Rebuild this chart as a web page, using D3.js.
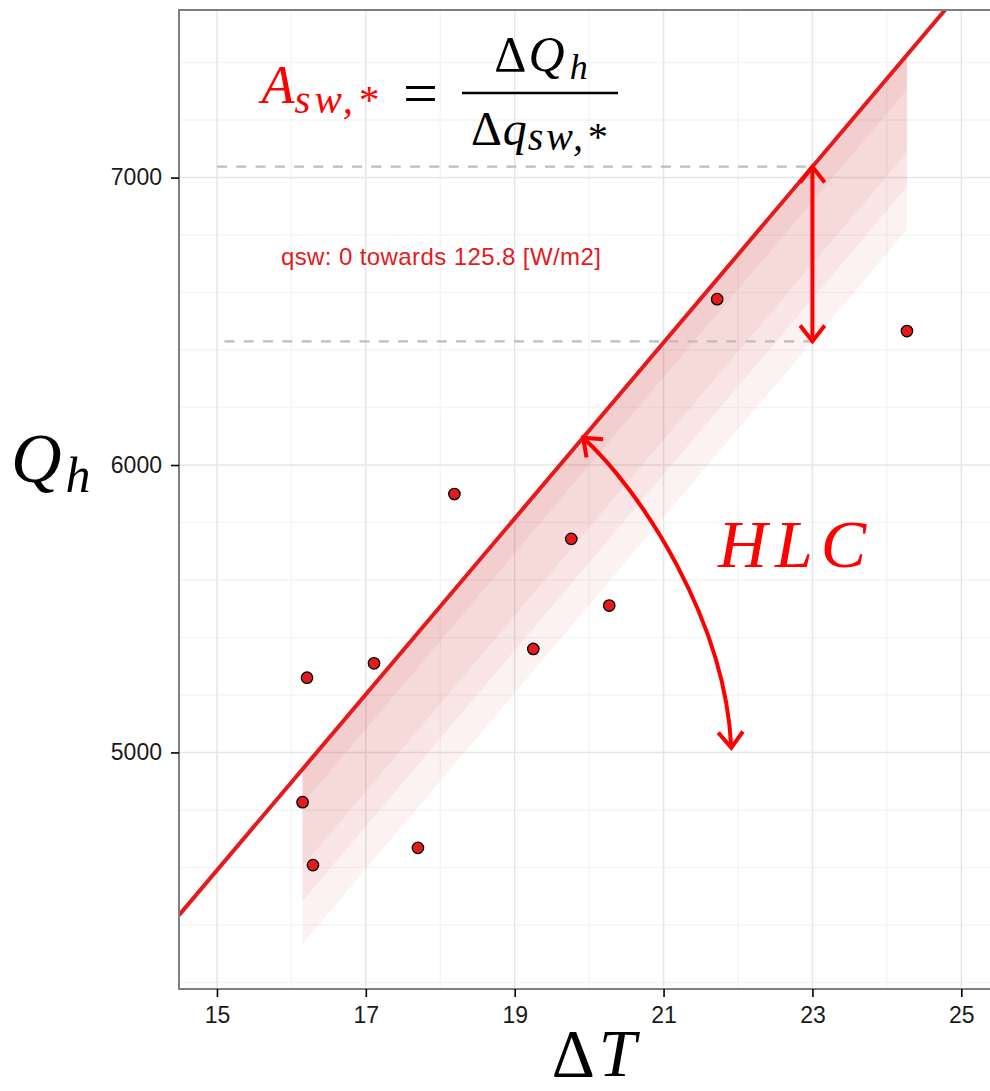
<!DOCTYPE html>
<html lang="en">

<head>
    <meta charset="utf-8">
    <title>HLC</title>
    <script src="https://d3js.org/d3.v7.min.js"></script>
    <style>
        body { margin: 0; background: #fff; }
    </style>
</head>

<body>
    <script type="text/javascript">
        var w = 990;
        var h = 1091;

        // measured points (temperature difference, heating power)
        var dT = [16.21, 17.11, 18.19, 16.15, 16.29, 17.70, 19.25, 19.76, 20.27, 21.72, 24.27];
        var Qh = [5260, 5310, 5899, 4827, 4608, 4668, 5360, 5743, 5511, 6577, 6466];

        // fitted model: Q = hlc * dT + intercept + asw * qsw
        var hlc = 306;
        var intercept = 0;
        var asw = -4.83;
        var qswMax = 125.8;
        var qswSteps = [25, 70, 95, 125.8];

        var xTicks = [15, 17, 19, 21, 23, 25];
        var xMinor = [16, 18, 20, 22, 24];
        var yTicks = [5000, 6000, 7000];
        var yMinor = [4200, 4400, 4600, 4800, 5200, 5400, 5600, 5800, 6200, 6400, 6600, 6800, 7200, 7400];

        // annotation anchors, in data units
        var arcX = [19.92, 20.69, 21.83, 21.91];
        var arcY = [6095, 5913, 5461, 5016];
        var dashStart = [15, 15.1];
        var arrowX = 23;

        var red = "#e41a1c";
        var pure = "#ff0000";

        var x = d3.scaleLinear().domain([14.49, 25.52]).range([179, 1000]);
        var y = d3.scaleLinear().domain([4177, 7583]).range([989, 10]);

        function model(t, q) { return hlc * t + intercept + asw * q; }

        var svg = d3.select("body")
            .append("svg").attr("width", w).attr("height", h);

        svg.append("clipPath").attr("id", "panel")
            .append("rect").attr("x", 179).attr("y", 10).attr("width", 821).attr("height", 979);

        var g = svg.append("g").attr("clip-path", "url(#panel)");

        // grid
        g.selectAll(".xmin").data(xMinor).enter().append("line")
            .attr("x1", d => x(d)).attr("x2", d => x(d)).attr("y1", 10).attr("y2", 989)
            .attr("stroke", "#f5f5f5").attr("stroke-width", 1.5);
        g.selectAll(".ymin").data(yMinor).enter().append("line")
            .attr("y1", d => y(d)).attr("y2", d => y(d)).attr("x1", 179).attr("x2", 1000)
            .attr("stroke", "#f5f5f5").attr("stroke-width", 1.5);
        g.selectAll(".xmaj").data(xTicks).enter().append("line")
            .attr("x1", d => x(d)).attr("x2", d => x(d)).attr("y1", 10).attr("y2", 989)
            .attr("stroke", "#e6e6e6").attr("stroke-width", 1.5);
        g.selectAll(".ymaj").data(yTicks).enter().append("line")
            .attr("y1", d => y(d)).attr("y2", d => y(d)).attr("x1", 179).attr("x2", 1000)
            .attr("stroke", "#e6e6e6").attr("stroke-width", 1.5);

        // ribbons for the solar gains
        var ext = d3.extent(dT);
        qswSteps.forEach(function (q) {
            var area = d3.area()
                .x(d => x(d))
                .y0(d => y(model(d, 0)))
                .y1(d => y(model(d, q)));
            g.append("path").attr("d", area(ext))
                .attr("fill", "#d21f22").attr("fill-opacity", 0.06);
        });

        // dashed reference levels
        [0, qswMax].forEach(function (q, i) {
            g.append("line")
                .attr("x1", x(dashStart[i])).attr("x2", x(arrowX))
                .attr("y1", y(model(arrowX, q))).attr("y2", y(model(arrowX, q)))
                .attr("stroke", "#bdbdbd").attr("stroke-width", 2.2)
                .attr("stroke-dasharray", "10,9.3");
        });

        // regression line
        var xd = x.domain();
        g.append("line")
            .attr("x1", x(xd[0])).attr("y1", y(model(xd[0], 0)))
            .attr("x2", x(xd[1])).attr("y2", y(model(xd[1], 0)))
            .attr("stroke", red).attr("stroke-width", 4);

        // points
        g.selectAll("circle").data(dT).enter().append("circle")
            .attr("cx", d => x(d)).attr("cy", (d, i) => y(Qh[i]))
            .attr("r", 5.7).attr("fill", red).attr("stroke", "#000").attr("stroke-width", 1.3);

        // arrows
        function chevron(tx, ty, bx, by) {
            var a = Math.atan2(by, bx), s = 38 * Math.PI / 180, len = 20;
            var p = d3.path();
            p.moveTo(tx + len * Math.cos(a + s), ty + len * Math.sin(a + s));
            p.lineTo(tx, ty);
            p.lineTo(tx + len * Math.cos(a - s), ty + len * Math.sin(a - s));
            g.append("path").attr("d", p.toString()).attr("fill", "none")
                .attr("stroke", pure).attr("stroke-width", 4);
        }

        var vx = x(arrowX), vy0 = y(model(arrowX, 0)), vy1 = y(model(arrowX, qswMax));
        g.append("line").attr("x1", vx).attr("x2", vx).attr("y1", vy0 + 1).attr("y2", vy1 - 1)
            .attr("stroke", pure).attr("stroke-width", 4);
        chevron(vx, vy0, 0, 1);
        chevron(vx, vy1, 0, -1);

        var ap = arcX.map((d, i) => [x(d), y(arcY[i])]);
        var arc = d3.path();
        arc.moveTo(ap[0][0], ap[0][1]);
        arc.bezierCurveTo(ap[1][0], ap[1][1], ap[2][0], ap[2][1], ap[3][0], ap[3][1]);
        g.append("path").attr("d", arc.toString()).attr("fill", "none")
            .attr("stroke", pure).attr("stroke-width", 4);
        chevron(ap[0][0], ap[0][1], ap[1][0] - ap[0][0], ap[1][1] - ap[0][1]);
        chevron(ap[3][0], ap[3][1], ap[2][0] - ap[3][0], ap[2][1] - ap[3][1]);

        // panel border
        svg.append("rect").attr("x", 179).attr("y", 10).attr("width", 821).attr("height", 979)
            .attr("fill", "none").attr("stroke", "#7f7f7f").attr("stroke-width", 2);

        // axes
        var xAxis = svg.append("g").attr("transform", "translate(0,989)")
            .call(d3.axisBottom(x).tickValues(xTicks).tickFormat(d3.format("d")).tickSize(8).tickPadding(10));
        var yAxis = svg.append("g").attr("transform", "translate(179,0)")
            .call(d3.axisLeft(y).tickValues(yTicks).tickFormat(d3.format("d")).tickSize(8).tickPadding(9));
        [xAxis, yAxis].forEach(function (a) {
            a.select(".domain").remove();
            a.selectAll("line").attr("stroke", "#000").attr("stroke-width", 1.6);
            a.selectAll("text").attr("fill", "#1a1a1a")
                .style("font-family", "'Liberation Sans', Arial, sans-serif").style("font-size", "23px");
        });

        var serif = "'Liberation Serif', 'Times New Roman', serif";

        // axis titles
        var xt = svg.append("text").attr("x", x(20.09)).attr("y", 1076)
            .attr("text-anchor", "middle").attr("letter-spacing", 4)
            .style("font-family", serif).style("font-size", "67px");
        xt.append("tspan").text("\u0394");
        xt.append("tspan").style("font-style", "italic").text("T");

        var yt = svg.append("text").attr("x", 11).attr("y", 482)
            .style("font-family", serif).style("font-size", "70px");
        yt.append("tspan").style("font-style", "italic").text("Q");
        yt.append("tspan").style("font-style", "italic").style("font-size", "50px")
            .attr("dx", 4).attr("dy", 10).text("h");

        // formula
        var fa = svg.append("text").attr("x", x(15.6)).attr("y", y(7259))
            .style("font-family", serif).style("font-size", "54px").attr("fill", pure);
        fa.append("tspan").style("font-style", "italic").text("A");
        fa.append("tspan").style("font-style", "italic").style("font-size", "41px")
            .attr("dy", 10).attr("letter-spacing", 4).text("sw,*");
        svg.append("text").attr("x", x(17.5)).attr("y", y(7221))
            .style("font-family", serif).style("font-size", "62px").text("=");

        var bx = x(19.34), by = y(7294);
        svg.append("line").attr("x1", bx - 78).attr("x2", bx + 78).attr("y1", by).attr("y2", by)
            .attr("stroke", "#000").attr("stroke-width", 2.4);
        var num = svg.append("text").attr("x", bx + 2).attr("y", by - 22).attr("text-anchor", "middle")
            .attr("letter-spacing", 2)
            .style("font-family", serif).style("font-size", "50px");
        num.append("tspan").text("\u0394");
        num.append("tspan").style("font-style", "italic").text("Q");
        num.append("tspan").style("font-style", "italic").style("font-size", "36px")
            .attr("dx", 3).attr("dy", 8).text("h");
        var den = svg.append("text").attr("x", bx).attr("y", by + 52).attr("text-anchor", "middle")
            .attr("letter-spacing", 1)
            .style("font-family", serif).style("font-size", "48px");
        den.append("tspan").text("\u0394");
        den.append("tspan").style("font-style", "italic").text("q");
        den.append("tspan").style("font-style", "italic").style("font-size", "40px")
            .attr("dy", 5).attr("letter-spacing", 3).text("sw,*");

        // labels
        svg.append("text").attr("x", x(15.86)).attr("y", y(6696))
            .attr("fill", red).attr("letter-spacing", 0.4)
            .style("font-family", "'Liberation Sans', Arial, sans-serif")
            .style("font-size", "24px").text("qsw: 0 towards 125.8 [W/m2]");

        svg.append("text").attr("x", x(21.73)).attr("y", y(5645))
            .attr("fill", pure).attr("letter-spacing", 8)
            .style("font-family", serif).style("font-style", "italic").style("font-size", "68px")
            .text("HLC");
    </script>
</body>

</html>
